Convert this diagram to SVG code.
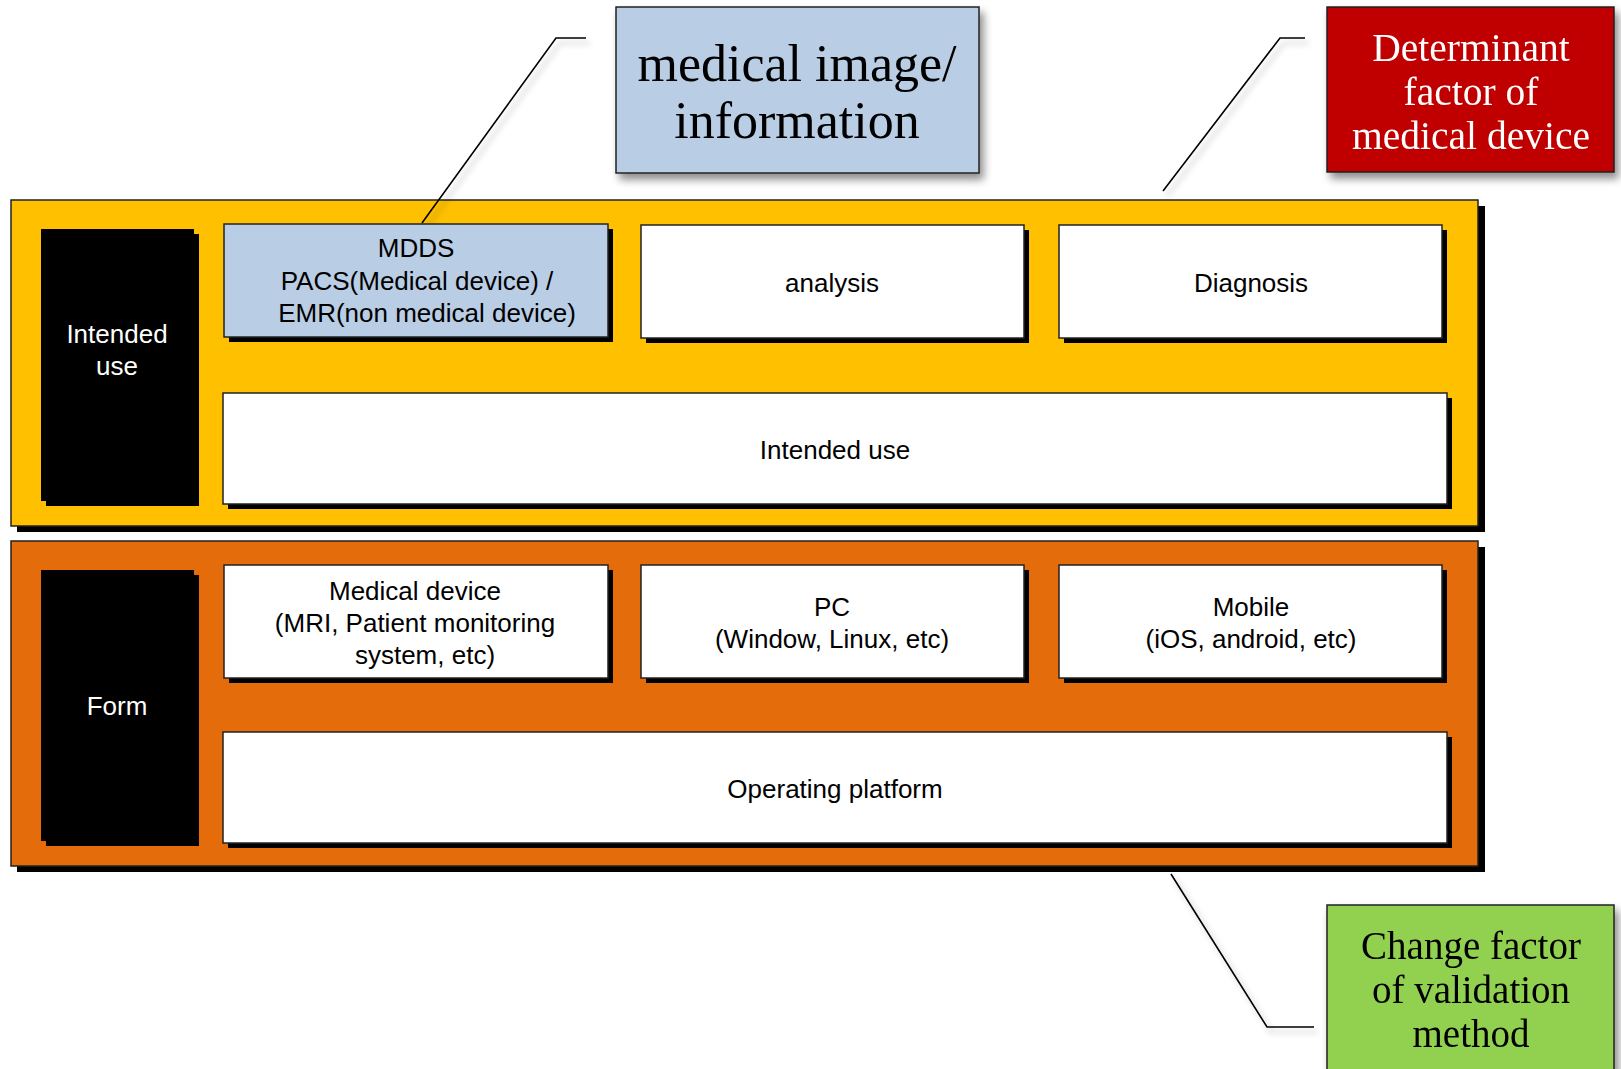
<svg xmlns="http://www.w3.org/2000/svg" width="1621" height="1069" viewBox="0 0 1621 1069">
<defs>
<filter id="soft" x="-10%" y="-10%" width="130%" height="140%">
<feGaussianBlur in="SourceAlpha" stdDeviation="4"/>
<feOffset dx="4" dy="6" result="b"/>
<feComponentTransfer><feFuncA type="linear" slope="0.45"/></feComponentTransfer>
<feMerge><feMergeNode/><feMergeNode in="SourceGraphic"/></feMerge>
</filter>
<filter id="lsoft" x="-20%" y="-20%" width="140%" height="140%">
<feGaussianBlur in="SourceAlpha" stdDeviation="3"/>
<feOffset dx="4" dy="5" result="b"/>
<feComponentTransfer><feFuncA type="linear" slope="0.3"/></feComponentTransfer>
<feMerge><feMergeNode/><feMergeNode in="SourceGraphic"/></feMerge>
</filter>
</defs>
<style>
.sh{fill:#000}
.box{stroke:#222;stroke-width:1.5}
.w{fill:#fff}
.t{font-family:"Liberation Sans",Arial,sans-serif;font-size:26px;fill:#000;text-anchor:middle}
.tw{font-family:"Liberation Sans",Arial,sans-serif;font-size:26px;fill:#fff;text-anchor:middle}
.s{font-family:"Liberation Serif","Times New Roman",serif;text-anchor:middle}
.lead{fill:none;stroke:#000;stroke-width:1.6}
</style>
<rect width="1621" height="1069" fill="#fff"/>

<g id="intended-panel">
<rect class="sh" x="17" y="206" width="1468" height="326"/>
<rect class="box" x="11" y="200" width="1467" height="326" fill="#FFC000"/>
</g>
<g id="form-panel">
<rect class="sh" x="17" y="547" width="1468" height="325"/>
<rect class="box" x="11" y="541" width="1467" height="325" fill="#E46C0A"/>
</g>

<g id="connectors" filter="url(#lsoft)">
<polyline class="lead" points="586,38 556,38 422,223"/>
<polyline class="lead" points="1305,38 1280,38 1163,191"/>
<polyline class="lead" points="1314,1027 1267,1027 1171,874"/>
</g>

<g id="intended-label">
<rect class="sh" x="46" y="234" width="153" height="272"/>
<rect x="41" y="229" width="153" height="272" fill="#000"/>
<text class="tw" x="117" y="343">Intended</text>
<text class="tw" x="117" y="375">use</text>
</g>
<g id="mdds">
<rect class="sh" x="229" y="229" width="384" height="113"/>
<rect class="box" x="224" y="224" width="384" height="113" fill="#B9CDE5"/>
<text class="t" x="416" y="257">MDDS</text>
<text class="t" x="417" y="290">PACS(Medical device) /</text>
<text class="t" x="427" y="322">EMR(non medical device)</text>
</g>
<g id="analysis">
<rect class="sh" x="646" y="230" width="383" height="113"/>
<rect class="box w" x="641" y="225" width="383" height="113"/>
<text class="t" x="832" y="292">analysis</text>
</g>
<g id="diagnosis">
<rect class="sh" x="1064" y="230" width="383" height="113"/>
<rect class="box w" x="1059" y="225" width="383" height="113"/>
<text class="t" x="1251" y="292">Diagnosis</text>
</g>
<g id="intended-use">
<rect class="sh" x="228" y="398" width="1224" height="111"/>
<rect class="box w" x="223" y="393" width="1224" height="111"/>
<text class="t" x="835" y="459">Intended use</text>
</g>

<g id="form-label">
<rect class="sh" x="46" y="575" width="153" height="271"/>
<rect x="41" y="570" width="153" height="271" fill="#000"/>
<text class="tw" x="117" y="715">Form</text>
</g>
<g id="medical-device">
<rect class="sh" x="229" y="570" width="384" height="113"/>
<rect class="box w" x="224" y="565" width="384" height="113"/>
<text class="t" x="415" y="600">Medical device</text>
<text class="t" x="415" y="632">(MRI, Patient monitoring</text>
<text class="t" x="425" y="664">system, etc)</text>
</g>
<g id="pc">
<rect class="sh" x="646" y="570" width="383" height="113"/>
<rect class="box w" x="641" y="565" width="383" height="113"/>
<text class="t" x="832" y="616">PC</text>
<text class="t" x="832" y="648">(Window, Linux, etc)</text>
</g>
<g id="mobile">
<rect class="sh" x="1064" y="570" width="383" height="113"/>
<rect class="box w" x="1059" y="565" width="383" height="113"/>
<text class="t" x="1251" y="616">Mobile</text>
<text class="t" x="1251" y="648">(iOS, android, etc)</text>
</g>
<g id="operating-platform">
<rect class="sh" x="228" y="737" width="1224" height="111"/>
<rect class="box w" x="223" y="732" width="1224" height="111"/>
<text class="t" x="835" y="798">Operating platform</text>
</g>

<g id="medical-image" filter="url(#soft)">
<rect class="box" x="616" y="7" width="363" height="166" fill="#B9CDE5"/>
<text class="s" x="797" y="81" font-size="52">medical image/</text>
<text class="s" x="797" y="138" font-size="52">information</text>
</g>
<g id="determinant" filter="url(#soft)">
<rect class="box" x="1327" y="7" width="287" height="165" fill="#C00000"/>
<text class="s" x="1471" y="61" font-size="39.5" fill="#fff">Determinant</text>
<text class="s" x="1471" y="105" font-size="39.5" fill="#fff">factor of</text>
<text class="s" x="1471" y="149" font-size="39.5" fill="#fff">medical device</text>
</g>
<g id="change-factor" filter="url(#soft)">
<rect class="box" x="1327" y="905" width="287" height="175" fill="#92D050"/>
<text class="s" x="1471" y="959" font-size="39">Change factor</text>
<text class="s" x="1471" y="1003" font-size="39">of validation</text>
<text class="s" x="1471" y="1047" font-size="39">method</text>
</g>
</svg>
